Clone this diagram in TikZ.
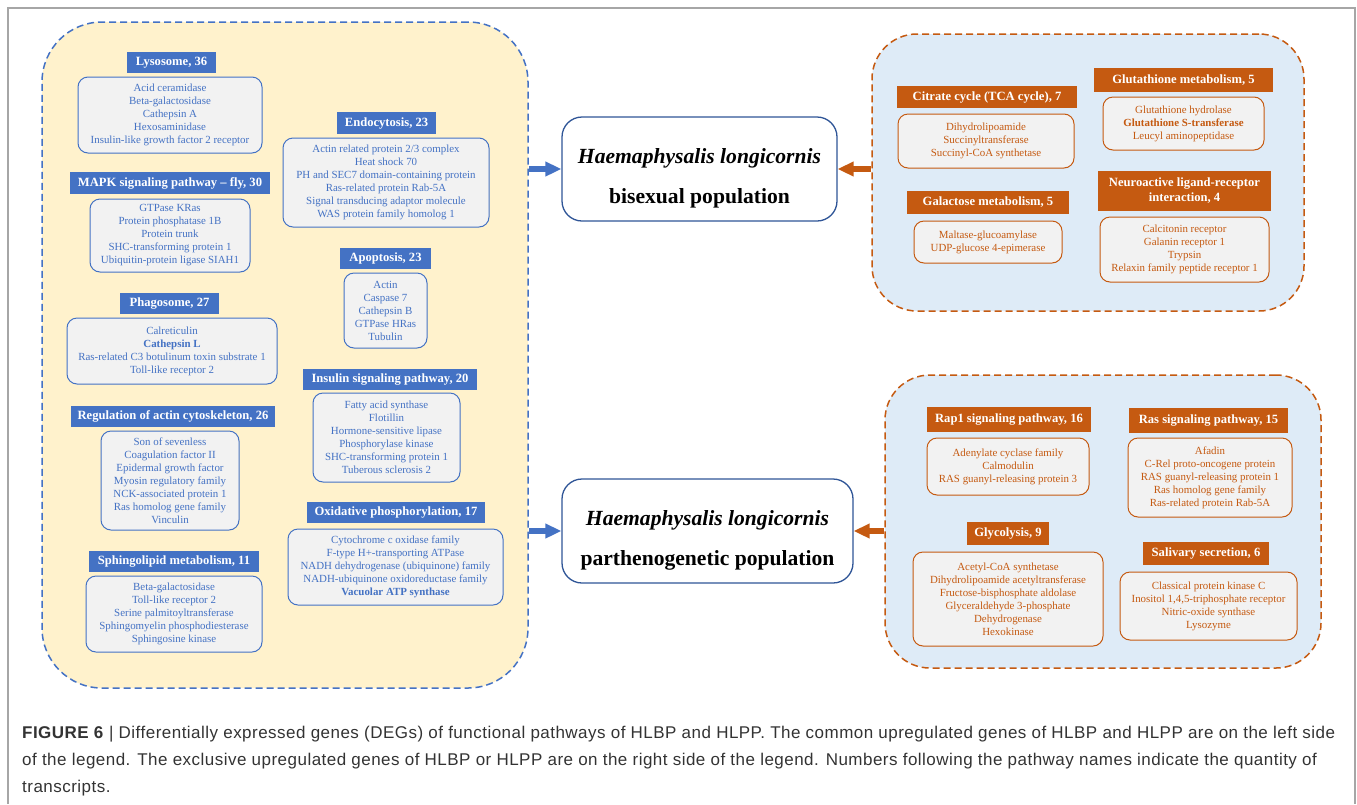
\documentclass[tikz,border=0pt]{standalone}
\usepackage{fontspec}
\setmainfont{Liberation Serif}
\newfontfamily\capfont[LetterSpace=2.8]{Liberation Sans}
\usetikzlibrary{arrows.meta}
\definecolor{myblue}{HTML}{4472C4}
\definecolor{darkblue}{HTML}{2F5597}
\definecolor{myorange}{HTML}{C55A11}
\definecolor{boxgray}{HTML}{F2F2F2}
\definecolor{lyellow}{HTML}{FFF2CC}
\definecolor{lblue}{HTML}{DEEBF7}
\definecolor{capgray}{HTML}{333333}
\newcommand{\poptext}[2]{\raisebox{-15pt}[0pt][0pt]{\begin{tabular}{@{}c@{}}\itshape #1\\[16pt] #2\end{tabular}}}
\tikzset{
  hdr/.style={inner sep=0pt, font=\bfseries\fontsize{12.6}{15}\selectfont, text=white, align=center},
  lhdr/.style={hdr, fill=myblue},
  rhdr/.style={hdr, fill=myorange},
  gbox/.style={inner sep=0pt, rounded corners=10pt, fill=boxgray, line width=1pt, align=center, font=\fontsize{10.9}{13}\selectfont},
  lbox/.style={gbox, draw=myblue, text=myblue},
  rbox/.style={gbox, draw=myorange, text=myorange},
  panel/.style={inner sep=0pt, dashed, dash pattern=on 7pt off 4pt, line width=1.5pt},
  lpanel/.style={panel, draw=myblue, fill=lyellow, rounded corners=60pt},
  rpanel/.style={panel, draw=myorange, fill=lblue, rounded corners=45pt},
  popbox/.style={inner sep=0pt, draw=darkblue, line width=1.3pt, rounded corners=20pt, fill=white, font=\bfseries\fontsize{21.6}{24}\selectfont},
  barrow/.style={line width=5.5pt, draw=myblue, -{Triangle[length=16pt,width=14pt]}},
  oarrow/.style={line width=5.5pt, draw=myorange, -{Triangle[length=16pt,width=14pt]}},
}
\begin{document}
\begin{tikzpicture}[x=1pt,y=-1pt]
\useasboundingbox (0,0) rectangle (1357,804);
% frame
\draw[draw=gray!70, line width=1.5pt] (8,804) -- (8,8) -- (1355,8) -- (1355,804);
% panels
\node[lpanel, minimum width=486pt, minimum height=666pt] (lp) at (285,355) {};
\node[rpanel, minimum width=432pt, minimum height=277pt] (rtp) at (1088,172.5) {};
\node[rpanel, minimum width=436pt, minimum height=293pt] (rbp) at (1103,521.5) {};
% population boxes
\node[popbox, minimum width=275pt, minimum height=104pt] (top) at (699.5,169) {\poptext{Haemaphysalis longicornis}{bisexual population}};
\node[popbox, minimum width=291pt, minimum height=104pt] (bot) at (707.5,531) {\poptext{Haemaphysalis longicornis}{parthenogenetic population}};
% arrows
\draw[barrow] (lp.east |- top.west) -- (top.west);
\draw[oarrow] (rtp.west |- top.east) -- (top.east);
\draw[barrow] (lp.east |- bot.west) -- (bot.west);
\draw[oarrow] (rbp.west |- bot.east) -- (bot.east);
% left panel
\node[lhdr, minimum width=89pt, minimum height=21pt] (h1) at (171.5,62.5) {Lysosome, 36};
\node[lbox, minimum width=184pt, minimum height=76pt] (b1) at (170,115) {Acid ceramidase\\Beta-galactosidase\\Cathepsin A\\Hexosaminidase\\Insulin-like growth factor 2 receptor};
\node[lhdr, minimum width=200pt, minimum height=22pt] (h2) at (170,183) {MAPK signaling pathway -- fly, 30};
\node[lbox, minimum width=160pt, minimum height=73pt] (b2) at (170,235.5) {GTPase KRas\\Protein phosphatase 1B\\Protein trunk\\SHC-transforming protein 1\\Ubiquitin-protein ligase SIAH1};
\node[lhdr, minimum width=99pt, minimum height=22pt] (h3) at (386.5,123) {Endocytosis, 23};
\node[lbox, minimum width=206pt, minimum height=89pt] (b3) at (386,182.5) {Actin related protein 2/3 complex\\Heat shock 70\\PH and SEC7 domain-containing protein\\Ras-related protein Rab-5A\\Signal transducing adaptor molecule\\WAS protein family homolog 1};
\node[lhdr, minimum width=91pt, minimum height=21pt] (h4) at (385.5,258.5) {Apoptosis, 23};
\node[lbox, minimum width=83pt, minimum height=75pt] (b4) at (385.5,310.5) {Actin\\Caspase 7\\Cathepsin B\\GTPase HRas\\Tubulin};
\node[lhdr, minimum width=99pt, minimum height=21pt] (h5) at (169.5,303.5) {Phagosome, 27};
\node[lbox, minimum width=210pt, minimum height=66pt] (b5) at (172,351) {Calreticulin\\\textbf{Cathepsin L}\\Ras-related C3 botulinum toxin substrate 1\\Toll-like receptor 2};
\node[lhdr, minimum width=204pt, minimum height=21pt] (h6) at (173,416.5) {Regulation of actin cytoskeleton, 26};
\node[lbox, minimum width=138pt, minimum height=99pt] (b6) at (170,480.5) {Son of sevenless\\Coagulation factor II\\Epidermal growth factor\\Myosin regulatory family\\NCK-associated protein 1\\Ras homolog gene family\\Vinculin};
\node[lhdr, minimum width=170pt, minimum height=21pt] (h7) at (174,561.5) {Sphingolipid metabolism, 11};
\node[lbox, minimum width=176pt, minimum height=76pt] (b7) at (174,614) {Beta-galactosidase\\Toll-like receptor 2\\Serine palmitoyltransferase\\Sphingomyelin phosphodiesterase\\Sphingosine kinase};
\node[lhdr, minimum width=174pt, minimum height=21pt] (h8) at (390,379.5) {Insulin signaling pathway, 20};
\node[lbox, minimum width=147pt, minimum height=89pt] (b8) at (386.5,437.5) {Fatty acid synthase\\Flotillin\\Hormone-sensitive lipase\\Phosphorylase kinase\\SHC-transforming protein 1\\Tuberous sclerosis 2};
\node[lhdr, minimum width=178pt, minimum height=21pt] (h9) at (396,512.5) {Oxidative phosphorylation, 17};
\node[lbox, minimum width=215pt, minimum height=76pt] (b9) at (395.5,567) {Cytochrome c oxidase family\\F-type H+-transporting ATPase\\NADH dehydrogenase (ubiquinone) family\\NADH-ubiquinone oxidoreductase family\\\textbf{Vacuolar ATP synthase}};
% right top panel
\node[rhdr, minimum width=180pt, minimum height=22pt] (r1) at (987,97) {Citrate cycle (TCA cycle), 7};
\node[rbox, minimum width=176pt, minimum height=54pt] (rb1) at (986,141) {Dihydrolipoamide\\Succinyltransferase\\Succinyl-CoA synthetase};
\node[rhdr, minimum width=179pt, minimum height=24pt] (r2) at (1183.5,80) {Glutathione metabolism, 5};
\node[rbox, minimum width=161pt, minimum height=53pt] (rb2) at (1183.5,123.5) {Glutathione hydrolase\\\textbf{Glutathione S-transferase}\\Leucyl aminopeptidase};
\node[rhdr, minimum width=162pt, minimum height=23pt] (r3) at (988,202.5) {Galactose metabolism, 5};
\node[rbox, minimum width=148pt, minimum height=42pt] (rb3) at (988,242) {Maltase-glucoamylase\\UDP-glucose 4-epimerase};
\node[rhdr, minimum width=173pt, minimum height=40pt] (r4) at (1184.5,191) {Neuroactive ligand-receptor\\interaction, 4};
\node[rbox, minimum width=169pt, minimum height=65pt] (rb4) at (1184.5,249.5) {Calcitonin receptor\\Galanin receptor 1\\Trypsin\\Relaxin family peptide receptor 1};
% right bottom panel
\node[rhdr, minimum width=164pt, minimum height=25pt] (r5) at (1009,419.5) {Rap1 signaling pathway, 16};
\node[rbox, minimum width=162pt, minimum height=57pt] (rb5) at (1008,466.5) {Adenylate cyclase family\\Calmodulin\\RAS guanyl-releasing protein 3};
\node[rhdr, minimum width=159pt, minimum height=25pt] (r6) at (1208.5,420.5) {Ras signaling pathway, 15};
\node[rbox, minimum width=164pt, minimum height=79pt] (rb6) at (1210,477.5) {Afadin\\C-Rel proto-oncogene protein\\RAS guanyl-releasing protein 1\\Ras homolog gene family\\Ras-related protein Rab-5A};
\node[rhdr, minimum width=82pt, minimum height=23pt] (r7) at (1008,533.5) {Glycolysis, 9};
\node[rbox, minimum width=190pt, minimum height=94pt] (rb7) at (1008,599) {Acetyl-CoA synthetase\\Dihydrolipoamide acetyltransferase\\Fructose-bisphosphate aldolase\\Glyceraldehyde 3-phosphate\\Dehydrogenase\\Hexokinase};
\node[rhdr, minimum width=126pt, minimum height=23pt] (r8) at (1206,553.5) {Salivary secretion, 6};
\node[rbox, minimum width=177pt, minimum height=68pt] (rb8) at (1208.5,606) {Classical protein kinase C\\Inositol 1,4,5-triphosphate receptor\\Nitric-oxide synthase\\Lysozyme};
% caption
\node[anchor=north west, inner sep=0pt, align=left, text=capgray, font=\capfont\fontsize{17}{27}\selectfont] (cap) at (22,726) {\textbf{FIGURE 6} | Differentially expressed genes (DEGs) of functional pathways of HLBP and HLPP. The common upregulated genes of HLBP and HLPP are on the left side\\of the legend. The exclusive upregulated genes of HLBP or HLPP are on the right side of the legend. Numbers following the pathway names indicate the quantity of\\transcripts.};
\end{tikzpicture}
\end{document}
